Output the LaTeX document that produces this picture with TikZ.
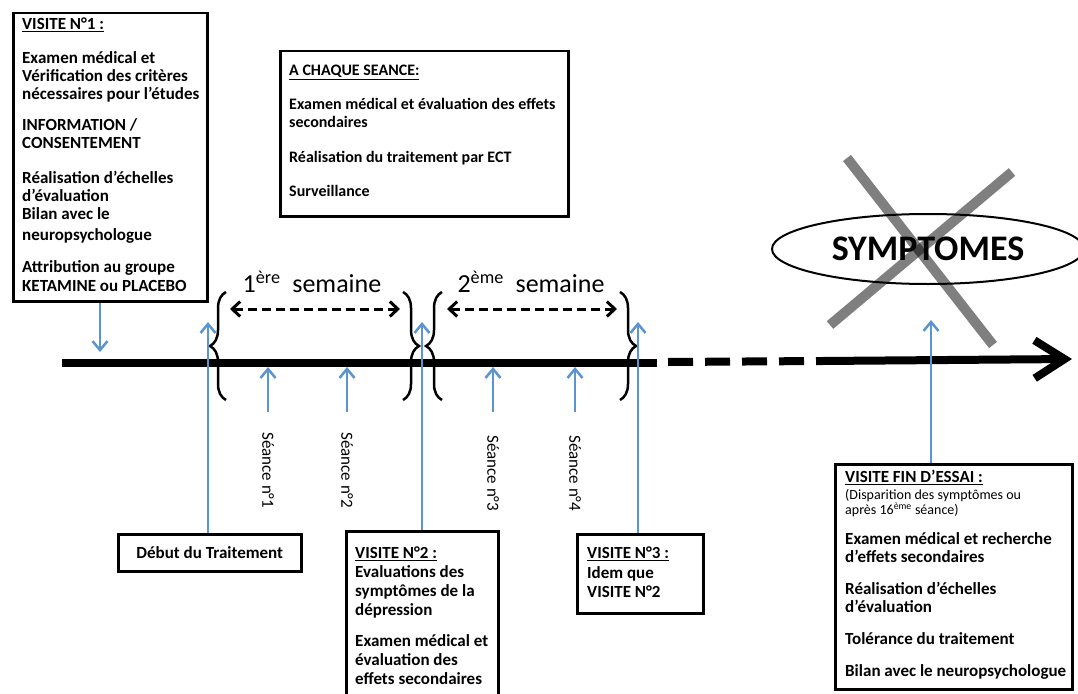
\documentclass[tikz,border=0pt]{standalone}
\usepackage{fontspec}
\setmainfont{Carlito}
\usetikzlibrary{arrows.meta,decorations.pathreplacing,shapes.geometric,positioning}
\definecolor{arrowblue}{RGB}{91,148,206}
\newcommand\boxfont{\bfseries\fontsize{17}{18}\selectfont}

\begin{document}
\begin{tikzpicture}[x=1pt, y=-1pt,
    frame/.style={draw, line width=2.5, anchor=north west, inner sep=0pt},
    boxtext/.style={anchor=north west, align=left, inner sep=0pt, font=\boxfont},
    bluearr/.style={draw=arrowblue, line width=2.5, -{Straight Barb[length=9,width=15]}},
    seance/.style={rotate=-90, anchor=west, inner sep=0pt, font=\fontsize{17}{17}\selectfont},
    brc/.style={decorate, decoration={brace, amplitude=16}, line width=2.5},
    weekarr/.style={line width=3, dash pattern=on 9 off 5,
        {Straight Barb[length=8,width=15]}-{Straight Barb[length=8,width=15]}},
    week/.style={font=\fontsize{26}{26}\selectfont, inner sep=0pt}]
\useasboundingbox (0,0) rectangle (1078,693);

% timeline
\coordinate (tl0) at (62,363);
\coordinate (tl1) at (657,363);
\coordinate (tl2) at (668,362);
\coordinate (tl3) at (822,361);
\coordinate (tl4) at (1072,359);
\draw[line width=8] (tl0) -- (tl1);
\draw[line width=8, dash pattern=on 25 off 12] (tl2) -- (tl3);
\draw[line width=8, line cap=round, -{Straight Barb[length=30,width=38]}] (tl3) -- (tl4);

% visite 1
\node[frame, minimum width=194, minimum height=288] (v1) at (12,12) {};
\node[boxtext, font=\bfseries\fontsize{17}{18.2}\selectfont] (v1t) at (22,18) {\underline{VISITE N°1 :}\\[15]
    Examen médical et\\ Vérification des critères\\ nécessaires pour l’études\\[13]
    INFORMATION /\\ CONSENTEMENT\\[16]
    Réalisation d’échelles\\ d’évaluation\\ Bilan avec le\\[3] neuropsychologue\\[14]
    Attribution au groupe\\ KETAMINE ou PLACEBO};

% a chaque seance
\node[frame, minimum width=288, minimum height=165] (seq) at (279,50) {};
\node[boxtext, font=\bfseries\fontsize{16}{18}\selectfont] (seqt) at (289,65) {\underline{A CHAQUE SEANCE:}\\[16]
    Examen médical et évaluation des effets\\ secondaires\\[17]
    Réalisation du traitement par ECT\\[16] Surveillance};

% boxes under the timeline
\node[frame, minimum width=183, minimum height=37, font=\boxfont] (deb) at (117,533) {Début du Traitement};
\node[frame, minimum width=152, minimum height=170] (v2) at (345,530) {};
\node[boxtext, font=\bfseries\fontsize{17}{19}\selectfont] (v2t) at (355,547) {\underline{VISITE N°2 :}\\
    Evaluations des\\ symptômes de la\\ dépression\\[12]
    Examen médical et\\ évaluation des\\ effets secondaires};
\node[frame, minimum width=126, minimum height=79] (v3) at (576,533) {};
\node[boxtext, font=\bfseries\fontsize{17}{19.5}\selectfont] (v3t) at (587,547) {\underline{VISITE N°3 :}\\
    Idem que\\ VISITE N°2};
\node[frame, minimum width=237, minimum height=225] (fin) at (834,463) {};
\node[boxtext] (fint) at (845,470) {\underline{VISITE FIN D’ESSAI :}\\[-1]
    {\mdseries\fontsize{14}{15}\selectfont (Disparition des symptômes ou}\\[-3]
    {\mdseries\fontsize{14}{15}\selectfont après 16\textsuperscript{ème} séance)}\\[12]
    Examen médical et recherche\\ d’effets secondaires\\[14]
    Réalisation d’échelles\\ d’évaluation\\[14]
    Tolérance du traitement\\[14]
    Bilan avec le neuropsychologue};

% symptomes, crossed out
\node[draw, ellipse, line width=2, minimum width=312, minimum height=70, inner sep=0pt,
    font=\bfseries\fontsize{36}{36}\selectfont] (symp) at (928,249) {SYMPTOMES};
\draw[black, opacity=.5, line width=10] (847,158) -- (993,345);
\draw[black, opacity=.5, line width=10] (1012,172) -- (830,325);

% weeks
\draw[brc] (226,400) -- (226,292);
\draw[brc] (403,292) -- (403,400);
\draw[brc] (442,400) -- (442,292);
\draw[brc] (620,292) -- (620,400);
\coordinate (w1a) at (230,309);
\coordinate (w1b) at (400,309);
\coordinate (w2a) at (447,309);
\coordinate (w2b) at (617,309);
\draw[weekarr] (w1a) -- (w1b);
\draw[weekarr] (w2a) -- (w2b);
\node[week] (w1) at (312,282) {1\textsuperscript{ère}\ \ semaine};
\node[week] (w2) at (531,282) {2\textsuperscript{ème}\ \ semaine};

% blue arrows
\coordinate (a1) at (100,352);
\coordinate (adeb) at (208,322);
\coordinate (av2) at (422,322);
\coordinate (av3) at (638,322);
\coordinate (afin) at (931,320);
\draw[bluearr] (v1.south -| a1) -- (a1);
\draw[bluearr] (deb.north -| adeb) -- (adeb);
\draw[bluearr] (v2.north -| av2) -- (av2);
\draw[bluearr] (v3.north -| av3) -- (av3);
\draw[bluearr] (fin.north -| afin) -- (afin);

% seances
\foreach \x/\n/\ly in {268/1/432, 347/2/432, 493/3/435, 575/4/435} {
    \coordinate (sb\n) at (\x,412);
    \coordinate (st\n) at (\x,367);
    \draw[bluearr] (sb\n) -- (st\n);
    \node[seance] (sl\n) at (\x,\ly) {Séance n°\n};
}
\end{tikzpicture}
\end{document}
